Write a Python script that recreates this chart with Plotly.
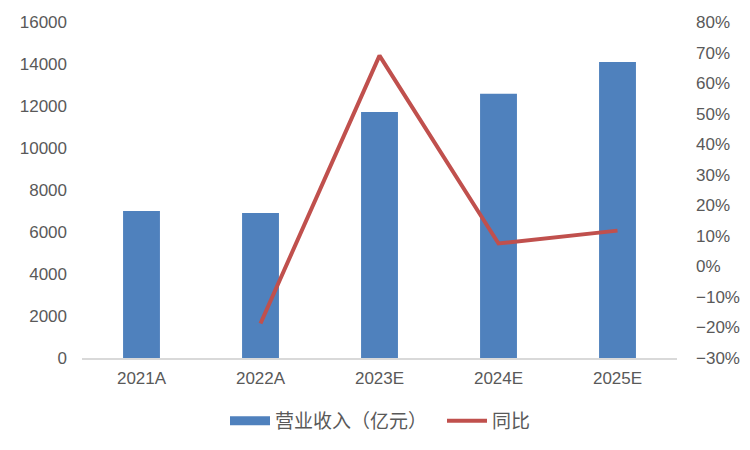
import plotly.graph_objects as go

categories = ["2021A", "2022A", "2023E", "2024E", "2025E"]
revenue = [7000, 6900, 11720, 12580, 14100]
yoy_cats = ["2022A", "2023E", "2024E", "2025E"]
yoy = [-0.187, 0.69, 0.075, 0.117]

bar_color = "#4F81BD"
line_color = "#C0504D"

fig = go.Figure()
fig.add_trace(go.Bar(x=categories, y=revenue, name="营业收入（亿元）",
                     marker=dict(color=bar_color, line=dict(width=0)), width=0.31,
                     yaxis="y", showlegend=False, legendgroup="rev"))
# legend-only entry so the key is drawn as a wide bar as in the reference
fig.add_trace(go.Scatter(x=[None], y=[None], name="营业收入（亿元）", mode="lines",
                         line=dict(color=bar_color, width=9), yaxis="y",
                         legendgroup="rev"))
fig.add_trace(go.Scatter(x=yoy_cats, y=yoy, name="同比", mode="lines",
                         line=dict(color=line_color, width=4), yaxis="y2"))

font_fam = "Liberation Sans, Arial, Noto Sans CJK SC, sans-serif"
fig.update_layout(
    width=750, height=450,
    margin=dict(l=82, r=73, t=22, b=92, autoexpand=False),
    plot_bgcolor="white", paper_bgcolor="white",
    font=dict(family=font_fam, size=17, color="#595959"),
    showlegend=True,
    legend=dict(orientation="h", xref="container", x=225 / 750,
                xanchor="left", yref="container",
                y=29 / 450, yanchor="middle",
                font=dict(size=19, color="#595959"), traceorder="normal",
                itemwidth=40, entrywidth=162, entrywidthmode="pixels"),
    xaxis=dict(type="category", showline=True, linecolor="#D9D9D9", linewidth=1.5,
               ticks="", showgrid=False, tickfont=dict(size=17), range=[-0.5, 4.5],
               ticklabelstandoff=4),
    yaxis=dict(range=[0, 16000], dtick=2000, tickformat="d", showgrid=False, zeroline=False,
               showline=False, ticks="", tickfont=dict(size=17), ticklabelstandoff=14),
    yaxis2=dict(range=[-0.3, 0.8], dtick=0.1, tickformat=".0%", overlaying="y",
                side="right", showgrid=False, zeroline=False, showline=False,
                ticks="", tickfont=dict(size=17), ticklabelstandoff=18),
)
fig.write_html("out.html")
